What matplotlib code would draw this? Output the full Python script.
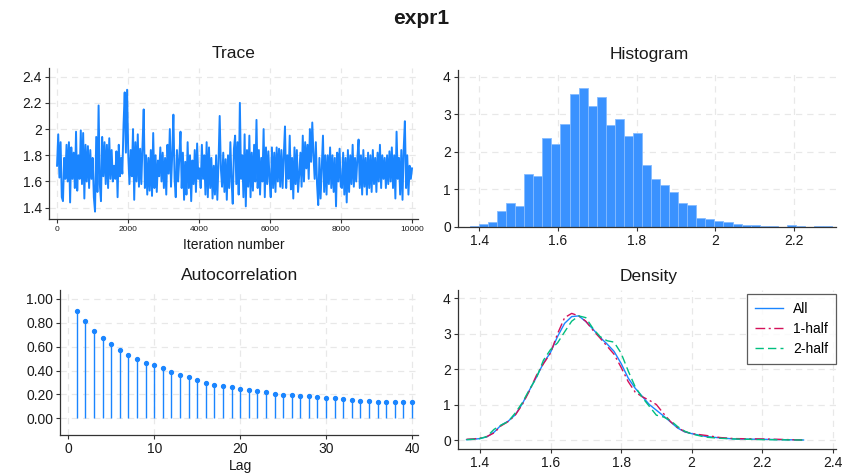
import numpy as np
import matplotlib
matplotlib.use("Agg")
import matplotlib.pyplot as plt
from matplotlib.ticker import FuncFormatter

plt.rcParams['font.family'] = ['Liberation Sans', 'DejaVu Sans']

# ---------------- data ----------------
main_title = "expr1"
n_iter = 10000

trace_values = [
    1.72, 1.96, 1.63, 1.90, 1.48, 1.45, 1.78, 1.62, 1.88, 1.60, 1.90, 1.44,
    1.86, 1.62, 1.82, 1.55, 1.98, 1.53, 1.80, 1.62, 1.99, 1.58, 1.97, 1.47,
    1.88, 1.60, 1.87, 1.55, 1.84, 1.62, 1.78, 1.48, 1.37, 1.94, 1.52, 2.18,
    1.58, 1.45, 1.94, 1.64, 1.90, 1.58, 1.88, 1.55, 1.93, 1.62, 1.84, 1.60,
    1.72, 1.62, 1.83, 1.48, 1.88, 1.64, 1.78, 1.66, 2.03, 2.28, 1.82, 2.30,
    1.80, 1.58, 1.84, 1.64, 2.00, 1.46, 1.90, 1.60, 1.96, 1.56, 1.85, 1.58,
    1.88, 2.15, 1.55, 1.80, 1.50, 1.78, 1.53, 1.84, 1.49, 1.97, 1.55, 1.80,
    1.52, 1.76, 1.64, 1.86, 1.60, 1.82, 1.55, 1.78, 1.50, 1.88, 1.66, 2.00,
    1.56, 1.80, 2.11, 1.62, 1.48, 1.84, 1.60, 1.78, 1.98, 1.55, 1.82, 1.46,
    1.75, 1.50, 1.90, 1.55, 1.80, 1.45, 1.76, 1.58, 1.84, 1.52, 1.89, 1.62,
    1.70, 1.55, 1.88, 1.62, 1.80, 1.50, 1.90, 1.48, 1.86, 1.55, 1.78, 1.47,
    1.72, 1.50, 1.80, 1.46, 1.74, 2.10, 1.70, 1.56, 1.82, 1.52, 1.77, 1.46,
    1.80, 1.55, 1.90, 1.60, 1.43, 1.85, 1.95, 1.58, 1.90, 1.50, 2.20, 1.62,
    1.80, 1.48, 1.96, 1.41, 1.84, 1.56, 1.95, 1.48, 1.82, 1.53, 1.88, 1.60,
    2.07, 1.55, 1.84, 1.50, 1.78, 1.60, 2.00, 1.48, 1.86, 1.58, 1.83, 1.62,
    1.48, 1.86, 1.55, 1.82, 1.52, 1.86, 1.60, 1.85, 1.56, 1.84, 1.55, 1.80,
    2.02, 1.55, 1.80, 1.62, 1.95, 1.54, 1.78, 1.47, 1.86, 1.58, 1.84, 1.52,
    1.65, 1.82, 1.56, 1.95, 1.60, 1.90, 1.70, 1.88, 1.62, 2.00, 1.75, 2.05,
    1.80, 1.62, 1.90, 1.58, 1.42, 1.78, 1.47, 1.72, 1.95, 1.52, 1.80, 1.50,
    1.80, 1.58, 1.86, 1.55, 1.80, 1.52, 1.78, 1.41, 1.82, 1.60, 1.85, 1.56,
    1.55, 1.82, 1.50, 1.78, 1.44, 1.84, 1.52, 1.80, 1.58, 1.88, 1.56, 1.78,
    1.60, 1.78, 1.92, 1.55, 1.80, 1.50, 1.84, 1.56, 1.78, 1.50, 1.82, 1.55,
    1.80, 1.52, 1.84, 1.58, 1.78, 1.52, 1.82, 1.60, 1.88, 1.55, 1.80, 1.62,
    1.78, 1.55, 1.80, 1.58, 1.83, 1.60, 1.86, 1.55, 1.80, 1.47, 1.98, 1.62,
    1.78, 1.50, 1.84, 1.46, 1.85, 2.06, 1.55, 1.80, 1.50, 1.72, 1.62, 1.70,
]

hist_bin_start = 1.376
hist_bin_width = 0.02303
hist_heights = [
    0.03, 0.09, 0.14, 0.43, 0.64, 0.57, 1.41, 1.36, 2.37, 2.20,
    2.74, 3.54, 3.69, 3.22, 3.46, 2.71, 2.87, 2.41, 2.50, 1.65,
    1.28, 1.12, 0.93, 0.64, 0.59, 0.24, 0.20, 0.16, 0.13, 0.07,
    0.04, 0.04, 0.03, 0.02, 0.01, 0.05, 0.02, 0.01, 0.02, 0.02,
]

acf_lags = list(range(1, 41))
acf_values = [
    0.899, 0.813, 0.735, 0.673, 0.620, 0.573, 0.528, 0.497, 0.466, 0.444,
    0.419, 0.391, 0.366, 0.344, 0.318, 0.299, 0.279, 0.268, 0.260, 0.249,
    0.240, 0.229, 0.218, 0.207, 0.198, 0.196, 0.190, 0.184, 0.176, 0.170,
    0.168, 0.159, 0.154, 0.148, 0.142, 0.140, 0.137, 0.137, 0.140, 0.140,
]

dens_all_x = [1.362, 1.38, 1.40, 1.42, 1.44, 1.46, 1.48, 1.50, 1.52, 1.54, 1.56, 1.58,
              1.60, 1.62, 1.64, 1.66, 1.68, 1.70, 1.72, 1.74, 1.76, 1.78, 1.80,
              1.82, 1.84, 1.86, 1.88, 1.90, 1.92, 1.94, 1.96, 1.98, 2.00, 2.04,
              2.08, 2.12, 2.20, 2.317]
dens_all_y = [0.01, 0.02, 0.04, 0.09, 0.22, 0.42, 0.53, 0.71, 1.02, 1.40, 1.77, 2.17,
              2.47, 2.92, 3.29, 3.48, 3.50, 3.34, 3.13, 2.90, 2.71, 2.50, 2.16,
              1.75, 1.46, 1.23, 1.00, 0.84, 0.68, 0.51, 0.34, 0.23, 0.18, 0.10,
              0.06, 0.03, 0.02, 0.0]

dens_h1_x = [1.362, 1.38, 1.40, 1.42, 1.44, 1.46, 1.48, 1.50, 1.52, 1.54, 1.56, 1.58,
             1.60, 1.62, 1.64, 1.66, 1.68, 1.70, 1.72, 1.74, 1.76, 1.78, 1.80,
             1.82, 1.84, 1.86, 1.88, 1.90, 1.92, 1.94, 1.96, 1.98, 2.00, 2.04,
             2.08, 2.12, 2.20, 2.317]
dens_h1_y = [0.02, 0.03, 0.05, 0.10, 0.20, 0.40, 0.52, 0.70, 1.00, 1.38, 1.82, 2.15,
             2.45, 3.00, 3.45, 3.57, 3.50, 3.35, 3.10, 2.88, 2.65, 2.42, 2.05,
             1.65, 1.35, 1.22, 1.12, 1.00, 0.75, 0.52, 0.35, 0.24, 0.18, 0.13,
             0.07, 0.04, 0.03, 0.0]

dens_h2_x = [1.362, 1.38, 1.40, 1.42, 1.44, 1.46, 1.48, 1.50, 1.52, 1.54, 1.56, 1.58,
             1.60, 1.62, 1.64, 1.66, 1.68, 1.70, 1.72, 1.74, 1.76, 1.78, 1.80,
             1.82, 1.84, 1.86, 1.88, 1.90, 1.92, 1.94, 1.96, 1.98, 2.00, 2.04,
             2.08, 2.12, 2.20, 2.317]
dens_h2_y = [0.01, 0.02, 0.04, 0.10, 0.30, 0.42, 0.52, 0.76, 1.05, 1.42, 1.75, 2.25,
             2.55, 2.74, 3.05, 3.35, 3.50, 3.45, 3.15, 2.92, 2.80, 2.76, 2.45,
             1.95, 1.50, 1.20, 0.95, 0.70, 0.65, 0.55, 0.38, 0.25, 0.17, 0.08,
             0.05, 0.03, 0.01, 0.0]

legend_labels = ["All", "1-half", "2-half"]

# ---------------- styling ----------------
BLUE = '#1a85ff'
RED = '#d41159'
GREEN = '#00bf7f'
GRID = '#e8e8e8'
TXT = '#1a1a1a'

W, H = 843, 475
fig = plt.figure(figsize=(W / 100, H / 100), dpi=100)


def px_axes(x0, y0, x1, y1):
    return fig.add_axes([x0 / W, 1 - y1 / H, (x1 - x0) / W, (y1 - y0) / H])


def style(ax, tick_size=10):
    for s in ['top', 'right']:
        ax.spines[s].set_visible(False)
    for s in ['left', 'bottom']:
        ax.spines[s].set_color('#333333')
        ax.spines[s].set_linewidth(0.9)
    ax.tick_params(axis='both', colors='#333333', labelcolor=TXT,
                   labelsize=tick_size, length=3, width=0.8, pad=2)
    ax.grid(True, color=GRID, linestyle=(0, (5, 4)), linewidth=0.9)
    ax.set_axisbelow(True)


fmt_g = FuncFormatter(lambda v, p: ('%g' % round(v, 6)))

# Trace
ax1 = px_axes(48.7, 68, 418, 219)
style(ax1)
iters = np.linspace(1, n_iter, len(trace_values))
ax1.plot(iters, trace_values, color=BLUE, lw=1.4)
ax1.set_xlim(-234, 10169)
ax1.set_ylim(1.3137, 2.466)
ax1.set_xticks(np.arange(0, 10001, 2000))
ax1.set_yticks([1.4, 1.6, 1.8, 2.0, 2.2, 2.4])
ax1.xaxis.set_major_formatter(fmt_g)
ax1.yaxis.set_major_formatter(fmt_g)
ax1.tick_params(axis='x', labelsize=6)
fig.text(234 / W, 1 - 54 / H, "Trace", ha='center', va='center', fontsize=12.5, color=TXT)
fig.text(234 / W, 1 - 245 / H, "Iteration number", ha='center', va='center', fontsize=10, color=TXT)

# Histogram
ax2 = px_axes(457.7, 70, 836, 227)
style(ax2)
lefts = hist_bin_start + hist_bin_width * np.arange(len(hist_heights))
ax2.bar(lefts, hist_heights, width=hist_bin_width, align='edge',
        color='#3a92ff', edgecolor='#85bbff', linewidth=0.6)
ax2.set_xlim(1.345, 2.307)
ax2.set_ylim(0, 4.18)
ax2.set_xticks([1.4, 1.6, 1.8, 2.0, 2.2])
ax2.set_yticks([0, 1, 2, 3, 4])
ax2.xaxis.set_major_formatter(fmt_g)
fig.text(649 / W, 1 - 54 / H, "Histogram", ha='center', va='center', fontsize=12.5, color=TXT)

# Autocorrelation
ax3 = px_axes(60.3, 290, 418, 435)
style(ax3)
ax3.vlines(acf_lags, 0, acf_values, color=BLUE, lw=1.0)
ax3.plot(acf_lags, acf_values, 'o', color=BLUE, ms=2.8)
ax3.set_xlim(-0.93, 40.7)
ax3.set_ylim(-0.14, 1.075)
ax3.set_xticks([0, 10, 20, 30, 40])
ax3.set_yticks([0, 0.2, 0.4, 0.6, 0.8, 1.0])
ax3.yaxis.set_major_formatter(FuncFormatter(lambda v, p: '%.2f' % v))
fig.text(240 / W, 1 - 275 / H, "Autocorrelation", ha='center', va='center', fontsize=12.5, color=TXT)
fig.text(240 / W, 1 - 466 / H, "Lag", ha='center', va='center', fontsize=10, color=TXT)

# Density
ax4 = px_axes(457.7, 290, 836, 449.3)
style(ax4)
l1, = ax4.plot(dens_all_x, dens_all_y, color=BLUE, lw=1.0)
l2, = ax4.plot(dens_h1_x, dens_h1_y, color=RED, lw=1.0, linestyle=(0, (7, 2.5, 1.5, 2.5)))
l3, = ax4.plot(dens_h2_x, dens_h2_y, color=GREEN, lw=1.0, linestyle=(0, (6, 3)))
ax4.set_xlim(1.337, 2.409)
ax4.set_ylim(-0.262, 4.23)
ax4.set_xticks([1.4, 1.6, 1.8, 2.0, 2.2, 2.4])
ax4.set_yticks([0, 1, 2, 3, 4])
ax4.xaxis.set_major_formatter(fmt_g)
leg = ax4.legend([l1, l2, l3], legend_labels, loc='upper right',
                 bbox_to_anchor=(1.0, 1.0 - 4 / 159.3), fontsize=10, frameon=True,
                 fancybox=False, borderpad=0.55, handlelength=2.0, labelspacing=0.45,
                 handletextpad=0.75, borderaxespad=0.0)
leg.get_frame().set_edgecolor('#333333')
leg.get_frame().set_linewidth(0.9)
fig.text(649 / W, 1 - 276 / H, "Density", ha='center', va='center', fontsize=12.5, color=TXT)

fig.text(421 / W, 1 - 19 / H, main_title, ha='center', va='center',
         fontsize=15, fontweight='bold', color=TXT)

fig.savefig("out.png", dpi=100, facecolor='white')
